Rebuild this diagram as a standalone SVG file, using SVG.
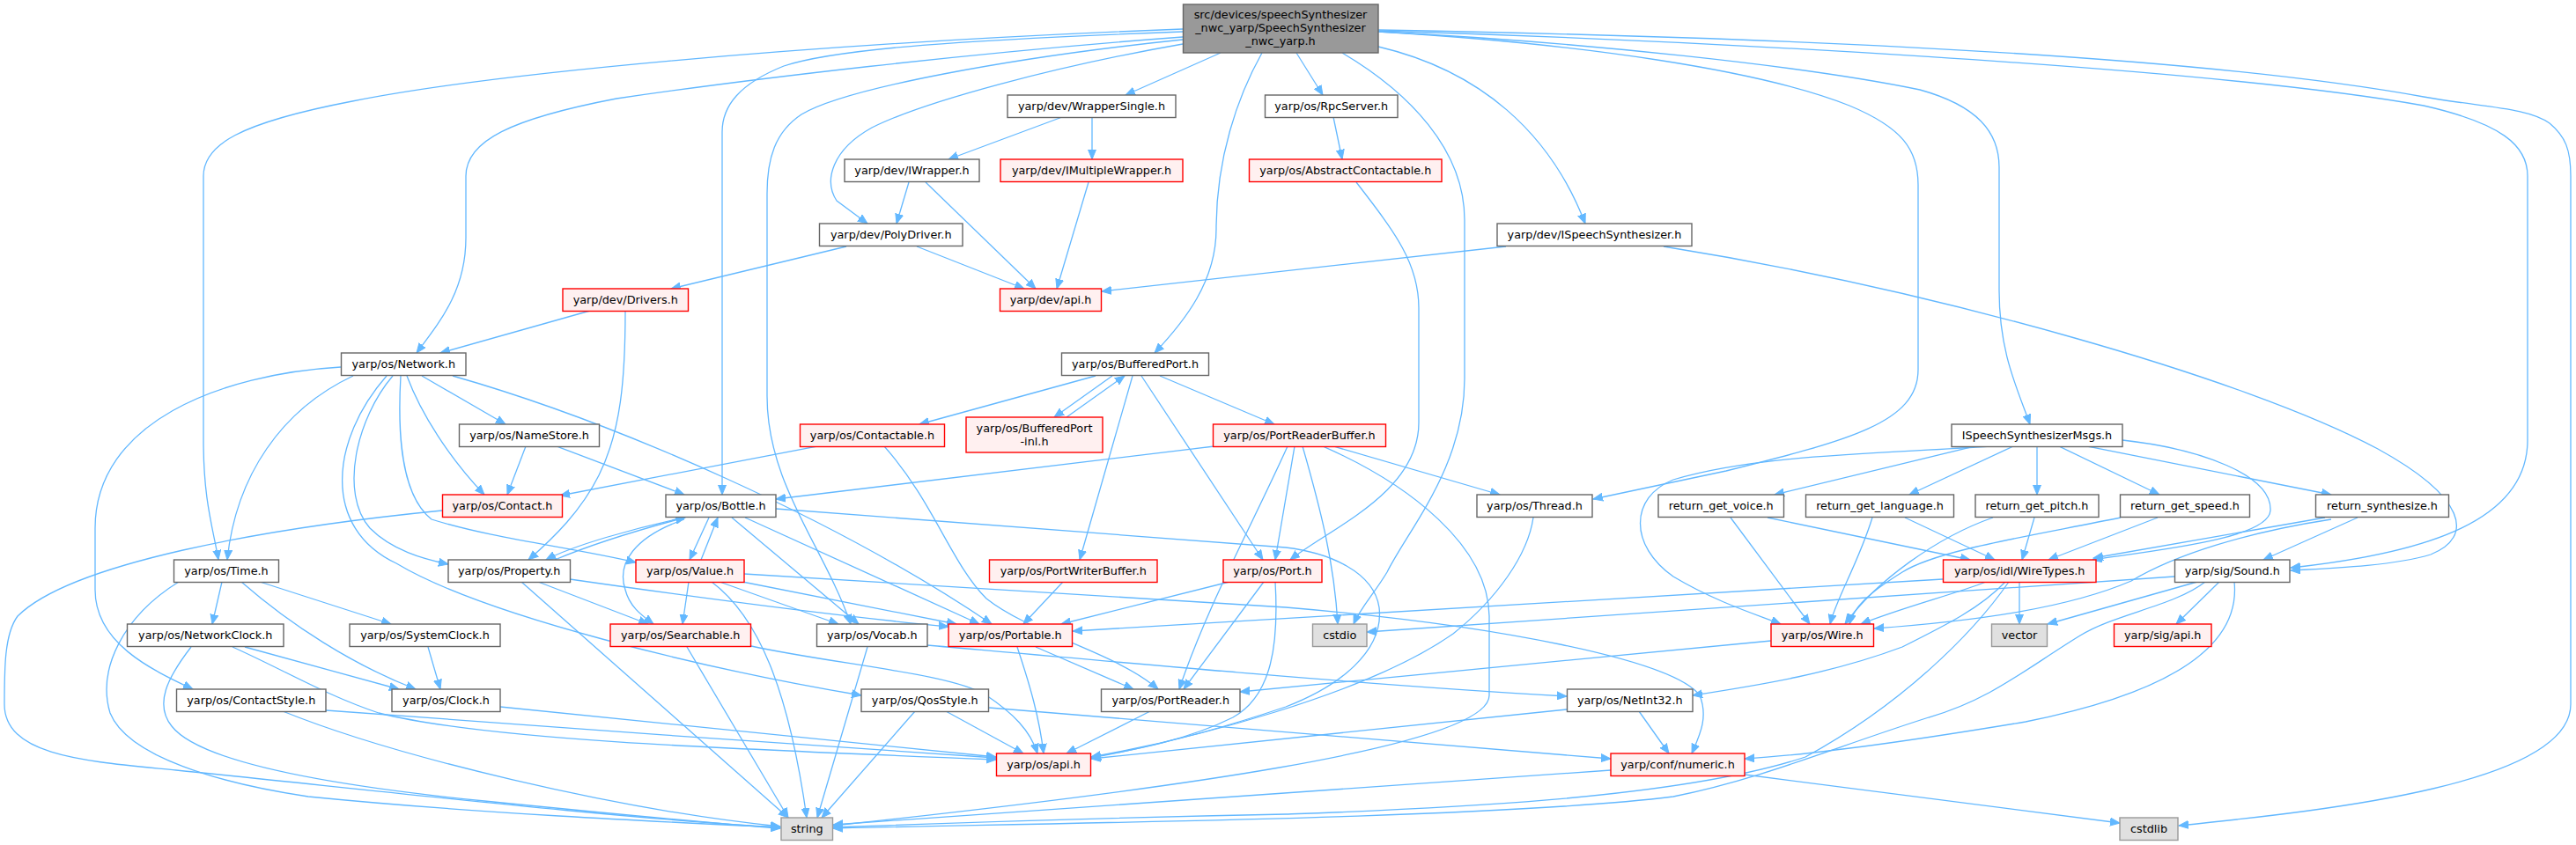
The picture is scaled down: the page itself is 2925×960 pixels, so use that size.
<svg xmlns="http://www.w3.org/2000/svg" width="2925" height="960" viewBox="0 0 2925 960">
<style>
text{font-family:"DejaVu Sans","Liberation Sans",sans-serif;font-size:12.8px;fill:#000;text-anchor:middle}
.n rect{fill:#fff;stroke:#666;stroke-width:1.4}
.r rect{fill:#fff0f0;stroke:#f00;stroke-width:1.4}
.g rect{fill:#e0e0e0;stroke:#999;stroke-width:1.4}
.m rect{fill:#999;stroke:#666;stroke-width:1.4}
#edges path{fill:none;stroke:#63b8ff;stroke-width:1.3;marker-end:url(#a)}
</style>
<defs>
<marker id="a" markerWidth="12" markerHeight="10" refX="11" refY="5" orient="auto" markerUnits="userSpaceOnUse"><path d="M0,0.5 L11,5 L0,9.5 z" fill="#63b8ff" stroke="#63b8ff" stroke-width="1"/></marker>
</defs>
<rect width="2925" height="960" fill="#fff"/>
<g id="edges">
<path d="M1386,60 L1278,108"/>
<path d="M1472,60 L1502,108"/>
<path d="M1343,33 C900,50 550,85 400,115 C270,140 231,165 231,200 L231,500 C231,570 242,600 248,636"/>
<path d="M1343,42 C1100,60 850,90 700,112 C580,135 529,160 529,200 L529,270 C529,330 500,365 473,401"/>
<path d="M1343,36 C1100,45 950,55 890,75 C840,95 820,120 820,150 L820,562"/>
<path d="M1343,45 C1150,65 960,100 910,130 C880,150 871,180 871,220 L871,450 C871,550 935,620 966,709"/>
<path d="M1343,50 C1200,75 1050,115 990,145 C945,170 935,205 950,228 L985,254"/>
<path d="M1433,60 C1405,110 1381,180 1381,260 C1381,320 1345,365 1311,401"/>
<path d="M1524,60 C1600,105 1663,170 1663,250 L1663,430 C1663,530 1600,600 1575,650 C1560,675 1545,690 1537,709"/>
<path d="M1565,53 C1680,80 1760,150 1800,254"/>
<path d="M1565,36 C1800,50 2000,80 2100,120 C2160,145 2178,170 2178,210 L2178,420 C2178,480 2100,500 1960,535 L1809,567"/>
<path d="M1565,36 C1800,48 2050,75 2180,102 C2245,120 2270,150 2270,190 L2270,330 C2270,400 2290,440 2305,482"/>
<path d="M1565,35 C1900,45 2500,75 2752,120 C2840,140 2870,165 2870,200 L2870,500 C2870,590 2760,628 2601,645"/>
<path d="M1565,34 C1900,40 2450,55 2752,110 C2820,122 2870,122 2895,140 C2913,155 2919,170 2919,200 L2919,800 C2919,890 2650,920 2474,938"/>
<path d="M1206,133 L1077,181"/>
<path d="M1240,133 L1240,181"/>
<path d="M1032,207 L1018,254"/>
<path d="M1051,207 L1176,328"/>
<path d="M1236,207 L1200,328"/>
<path d="M961,280 L762,328"/>
<path d="M1041,280 L1163,328"/>
<path d="M1710,280 L1251,331"/>
<path d="M1889,280 C2200,330 2550,430 2700,510 C2800,565 2810,610 2760,630 C2720,642 2660,645 2601,648"/>
<path d="M1514,133 L1524,181"/>
<path d="M1540,207 C1585,265 1611,300 1611,350 L1611,480 C1611,560 1510,600 1465,636"/>
<path d="M670,353 L500,401"/>
<path d="M710,353 C710,430 705,490 680,540 C660,580 630,610 600,636"/>
<path d="M401,427 C320,465 268,540 258,636"/>
<path d="M387,417 C250,425 108,480 108,600 L108,670 C108,730 170,760 219,783"/>
<path d="M446,427 C405,475 385,560 420,600 C445,625 480,635 509,641"/>
<path d="M439,427 C375,500 365,600 450,640 C550,700 800,760 978,790"/>
<path d="M462,427 C478,470 510,520 550,562"/>
<path d="M479,427 L574,482"/>
<path d="M455,427 C452,480 452,560 490,590 C560,612 650,622 722,639"/>
<path d="M514,427 C700,480 950,590 1126,709"/>
<path d="M597,507 L576,562"/>
<path d="M632,507 L777,562"/>
<path d="M928,507 L636,563"/>
<path d="M1004,507 C1060,570 1080,640 1120,680 C1170,720 1265,740 1315,783"/>
<path d="M1244,427 L1044,482"/>
<path d="M1263,427 L1197,474"/>
<path d="M1211,474 L1277,427"/>
<path d="M1286,427 L1226,636"/>
<path d="M1296,427 L1434,636"/>
<path d="M1317,427 L1447,482"/>
<path d="M1379,507 L881,567"/>
<path d="M1470,507 L1448,636"/>
<path d="M1462,507 C1420,600 1370,690 1339,783"/>
<path d="M1479,507 C1500,580 1515,640 1519,709"/>
<path d="M1502,507 C1600,550 1690,620 1691,700 L1691,790 C1691,850 1300,900 946,938"/>
<path d="M1514,507 L1703,562"/>
<path d="M2242,507 L2015,562"/>
<path d="M2286,507 L2168,562"/>
<path d="M2313,507 L2313,562"/>
<path d="M2338,507 L2452,562"/>
<path d="M2370,507 L2647,562"/>
<path d="M2410,500 C2500,510 2580,540 2578,580 C2576,612 2450,625 2376,636"/>
<path d="M2260,507 C2150,515 2000,515 1900,545 C1850,565 1850,620 1900,655 C1950,685 2000,700 2022,709"/>
<path d="M1965,588 L2055,709"/>
<path d="M2007,588 L2237,636"/>
<path d="M2126,588 C2110,640 2085,680 2078,709"/>
<path d="M2163,588 L2265,636"/>
<path d="M2263,588 C2200,610 2130,660 2095,709"/>
<path d="M2310,588 L2296,636"/>
<path d="M2408,588 C2300,610 2200,625 2160,650 C2120,675 2105,690 2100,709"/>
<path d="M2450,588 L2326,636"/>
<path d="M2640,588 L2377,634"/>
<path d="M2647,590 C2550,605 2470,630 2420,660 C2350,690 2250,705 2128,714"/>
<path d="M2677,588 L2570,636"/>
<path d="M2293,661 L2293,709"/>
<path d="M2206,658 L1218,717"/>
<path d="M2255,661 C2220,675 2160,690 2113,709"/>
<path d="M2277,661 C2250,690 2210,710 2160,735 C2080,765 2000,778 1922,790"/>
<path d="M2281,661 C2240,720 2160,800 2050,860 C1900,910 1600,920 1460,925 C1200,930 1050,936 946,940"/>
<path d="M2495,661 L2325,709"/>
<path d="M2520,661 L2471,709"/>
<path d="M2469,655 L1552,718"/>
<path d="M2504,661 C2470,688 2400,698 2362,722 C2300,760 2260,795 2190,815 C2080,850 2000,885 1900,905 C1700,930 1200,935 946,941"/>
<path d="M2537,661 C2545,740 2450,790 2300,820 C2150,845 2050,858 1981,862"/>
<path d="M1829,875 L946,937"/>
<path d="M1981,880 L2407,935"/>
<path d="M1779,806 L1239,862"/>
<path d="M1861,808 L1895,856"/>
<path d="M2011,728 L1408,786"/>
<path d="M1741,588 C1735,630 1700,680 1650,720 C1550,790 1350,840 1239,860"/>
<path d="M881,578 L1460,622 C1510,628 1560,650 1566,690 C1572,740 1520,780 1460,803 C1380,830 1300,850 1239,861"/>
<path d="M805,588 L783,636"/>
<path d="M796,636 L815,588"/>
<path d="M777,588 C720,600 650,620 620,636"/>
<path d="M630,636 C680,615 740,598 778,588"/>
<path d="M777,590 C720,610 700,640 710,670 C715,690 730,700 742,709"/>
<path d="M831,588 L975,709"/>
<path d="M846,588 L1112,709"/>
<path d="M611,661 L736,709"/>
<path d="M647,658 C800,680 950,700 1077,712"/>
<path d="M592,661 L895,929"/>
<path d="M782,661 L775,709"/>
<path d="M808,661 C860,700 895,780 916,929"/>
<path d="M817,661 L952,709"/>
<path d="M843,661 L1086,709"/>
<path d="M845,652 L1460,690 C1700,710 1900,750 1930,790 C1940,815 1930,835 1921,856"/>
<path d="M780,735 L895,929"/>
<path d="M853,734 C950,755 1080,765 1120,790 C1150,810 1170,830 1178,856"/>
<path d="M985,735 L928,929"/>
<path d="M1053,733 C1300,755 1550,778 1779,791"/>
<path d="M1176,735 L1287,783"/>
<path d="M1155,735 C1170,780 1180,815 1185,856"/>
<path d="M1207,661 L1162,709"/>
<path d="M1396,661 L1205,709"/>
<path d="M1435,661 L1344,783"/>
<path d="M1448,661 C1452,730 1445,790 1400,815 C1350,840 1290,852 1239,860"/>
<path d="M1306,808 L1211,856"/>
<path d="M1039,808 L933,929"/>
<path d="M1074,808 L1162,856"/>
<path d="M1123,804 L1829,862"/>
<path d="M252,661 L241,709"/>
<path d="M295,661 L444,709"/>
<path d="M274,661 C330,710 400,755 472,783"/>
<path d="M203,661 C140,700 110,760 125,810 C145,860 250,890 350,905 C550,925 780,935 886,940"/>
<path d="M278,735 L453,783"/>
<path d="M264,735 C320,760 370,790 430,810 C550,840 800,850 1131,863"/>
<path d="M217,735 C190,770 175,800 195,825 C230,870 400,895 550,910 C700,925 800,935 886,941"/>
<path d="M486,735 L500,783"/>
<path d="M370,807 C600,825 900,845 1131,861"/>
<path d="M321,808 C450,860 700,920 886,939"/>
<path d="M568,803 C800,825 1000,845 1131,860"/>
<path d="M502,580 C300,600 80,640 20,700 C5,720 5,760 5,800 C5,860 100,865 200,875 C400,895 700,930 886,940"/>
</g>
<g id="n_main" class="m"><rect x="1343.5" y="5" width="221.5" height="55"/><text x="1454" y="21">src/devices/speechSynthesizer</text><text x="1454" y="36">_nwc_yarp/SpeechSynthesizer</text><text x="1454" y="51">_nwc_yarp.h</text></g>
<g id="n_wrappersingle" class="n"><rect x="1144" y="108" width="191" height="25.5"/><text x="1239.5" y="125.3">yarp/dev/WrapperSingle.h</text></g>
<g id="n_rpcserver" class="n"><rect x="1436.5" y="108" width="150.5" height="25.5"/><text x="1511.75" y="125.3">yarp/os/RpcServer.h</text></g>
<g id="n_iwrapper" class="n"><rect x="959" y="181" width="153" height="25.5"/><text x="1035.5" y="198.3">yarp/dev/IWrapper.h</text></g>
<g id="n_imultiplewrapper" class="r"><rect x="1136" y="181" width="207" height="25.5"/><text x="1239.5" y="198.3">yarp/dev/IMultipleWrapper.h</text></g>
<g id="n_abstractcontactable" class="r"><rect x="1418.5" y="181" width="218.5" height="25.5"/><text x="1527.75" y="198.3">yarp/os/AbstractContactable.h</text></g>
<g id="n_polydriver" class="n"><rect x="930.5" y="254" width="162.5" height="25.5"/><text x="1011.75" y="271.3">yarp/dev/PolyDriver.h</text></g>
<g id="n_ispeechsynth" class="n"><rect x="1700" y="254" width="221" height="25.5"/><text x="1810.5" y="271.3">yarp/dev/ISpeechSynthesizer.h</text></g>
<g id="n_drivers" class="r"><rect x="639" y="328" width="142.5" height="25.5"/><text x="710.25" y="345.3">yarp/dev/Drivers.h</text></g>
<g id="n_devapi" class="r"><rect x="1135.5" y="328" width="115" height="25.5"/><text x="1193" y="345.3">yarp/dev/api.h</text></g>
<g id="n_network" class="n"><rect x="387.5" y="401" width="141.5" height="25.5"/><text x="458.25" y="418.3">yarp/os/Network.h</text></g>
<g id="n_bufferedport" class="n"><rect x="1205.5" y="401" width="167" height="25.5"/><text x="1289" y="418.3">yarp/os/BufferedPort.h</text></g>
<g id="n_namestore" class="n"><rect x="521.5" y="482" width="159" height="25.5"/><text x="601" y="499.3">yarp/os/NameStore.h</text></g>
<g id="n_contactable" class="r"><rect x="908.5" y="482" width="164" height="25.5"/><text x="990.5" y="499.3">yarp/os/Contactable.h</text></g>
<g id="n_bufferedportinl" class="r"><rect x="1097" y="474" width="155" height="40"/><text x="1174.5" y="491">yarp/os/BufferedPort</text><text x="1174.5" y="505.5">-inl.h</text></g>
<g id="n_portreaderbuffer" class="r"><rect x="1377.5" y="482" width="196" height="25.5"/><text x="1475.5" y="499.3">yarp/os/PortReaderBuffer.h</text></g>
<g id="n_msgs" class="n"><rect x="2216" y="482" width="194" height="25.5"/><text x="2313" y="499.3">ISpeechSynthesizerMsgs.h</text></g>
<g id="n_contact" class="r"><rect x="502.5" y="562" width="136" height="25.5"/><text x="570.5" y="579.3">yarp/os/Contact.h</text></g>
<g id="n_bottle" class="n"><rect x="756" y="562" width="125" height="25.5"/><text x="818.5" y="579.3">yarp/os/Bottle.h</text></g>
<g id="n_thread" class="n"><rect x="1677" y="562" width="131" height="25.5"/><text x="1742.5" y="579.3">yarp/os/Thread.h</text></g>
<g id="n_rgvoice" class="n"><rect x="1883" y="562" width="142.5" height="25.5"/><text x="1954.25" y="579.3">return_get_voice.h</text></g>
<g id="n_rglanguage" class="n"><rect x="2050.5" y="562" width="168" height="25.5"/><text x="2134.5" y="579.3">return_get_language.h</text></g>
<g id="n_rgpitch" class="n"><rect x="2243" y="562" width="140" height="25.5"/><text x="2313" y="579.3">return_get_pitch.h</text></g>
<g id="n_rgspeed" class="n"><rect x="2407.5" y="562" width="147" height="25.5"/><text x="2481" y="579.3">return_get_speed.h</text></g>
<g id="n_rsynth" class="n"><rect x="2629.5" y="562" width="151" height="25.5"/><text x="2705" y="579.3">return_synthesize.h</text></g>
<g id="n_time" class="n"><rect x="197.5" y="636" width="119" height="25.5"/><text x="257" y="653.3">yarp/os/Time.h</text></g>
<g id="n_property" class="n"><rect x="509" y="636" width="138.5" height="25.5"/><text x="578.25" y="653.3">yarp/os/Property.h</text></g>
<g id="n_value" class="r"><rect x="722" y="636" width="123" height="25.5"/><text x="783.5" y="653.3">yarp/os/Value.h</text></g>
<g id="n_portwriterbuffer" class="r"><rect x="1123.5" y="636" width="190.5" height="25.5"/><text x="1218.75" y="653.3">yarp/os/PortWriterBuffer.h</text></g>
<g id="n_port" class="r"><rect x="1389" y="636" width="112" height="25.5"/><text x="1445" y="653.3">yarp/os/Port.h</text></g>
<g id="n_wiretypes" class="r"><rect x="2206.5" y="636" width="173.5" height="25.5"/><text x="2293.25" y="653.3">yarp/os/idl/WireTypes.h</text></g>
<g id="n_sound" class="n"><rect x="2469.5" y="636" width="130.5" height="25.5"/><text x="2534.75" y="653.3">yarp/sig/Sound.h</text></g>
<g id="n_networkclock" class="n"><rect x="144.5" y="709" width="177.5" height="25.5"/><text x="233.25" y="726.3">yarp/os/NetworkClock.h</text></g>
<g id="n_systemclock" class="n"><rect x="397" y="709" width="171" height="25.5"/><text x="482.5" y="726.3">yarp/os/SystemClock.h</text></g>
<g id="n_searchable" class="r"><rect x="693" y="709" width="159.5" height="25.5"/><text x="772.75" y="726.3">yarp/os/Searchable.h</text></g>
<g id="n_vocab" class="n"><rect x="927.5" y="709" width="125.5" height="25.5"/><text x="990.25" y="726.3">yarp/os/Vocab.h</text></g>
<g id="n_portable" class="r"><rect x="1077" y="709" width="140.5" height="25.5"/><text x="1147.25" y="726.3">yarp/os/Portable.h</text></g>
<g id="n_cstdio" class="g"><rect x="1490.5" y="709" width="61.5" height="25.5"/><text x="1521.25" y="726.3">cstdio</text></g>
<g id="n_wire" class="r"><rect x="2011" y="709" width="116.5" height="25.5"/><text x="2069.25" y="726.3">yarp/os/Wire.h</text></g>
<g id="n_vector" class="g"><rect x="2261.5" y="709" width="63" height="25.5"/><text x="2293" y="726.3">vector</text></g>
<g id="n_sigapi" class="r"><rect x="2400.5" y="709" width="110.5" height="25.5"/><text x="2455.75" y="726.3">yarp/sig/api.h</text></g>
<g id="n_contactstyle" class="n"><rect x="200.5" y="783" width="169.5" height="25.5"/><text x="285.25" y="800.3">yarp/os/ContactStyle.h</text></g>
<g id="n_clock" class="n"><rect x="445" y="783" width="123" height="25.5"/><text x="506.5" y="800.3">yarp/os/Clock.h</text></g>
<g id="n_qosstyle" class="n"><rect x="978" y="783" width="144.5" height="25.5"/><text x="1050.25" y="800.3">yarp/os/QosStyle.h</text></g>
<g id="n_portreader" class="n"><rect x="1250.5" y="783" width="157.5" height="25.5"/><text x="1329.25" y="800.3">yarp/os/PortReader.h</text></g>
<g id="n_netint32" class="n"><rect x="1779.5" y="783" width="142.5" height="25.5"/><text x="1850.75" y="800.3">yarp/os/NetInt32.h</text></g>
<g id="n_osapi" class="r"><rect x="1131.5" y="856" width="107" height="25.5"/><text x="1185" y="873.3">yarp/os/api.h</text></g>
<g id="n_numeric" class="r"><rect x="1829" y="856" width="152" height="25.5"/><text x="1905" y="873.3">yarp/conf/numeric.h</text></g>
<g id="n_string" class="g"><rect x="887" y="929" width="58.5" height="25.5"/><text x="916.25" y="946.3">string</text></g>
<g id="n_cstdlib" class="g"><rect x="2407" y="929" width="66" height="25.5"/><text x="2440" y="946.3">cstdlib</text></g>
</svg>
